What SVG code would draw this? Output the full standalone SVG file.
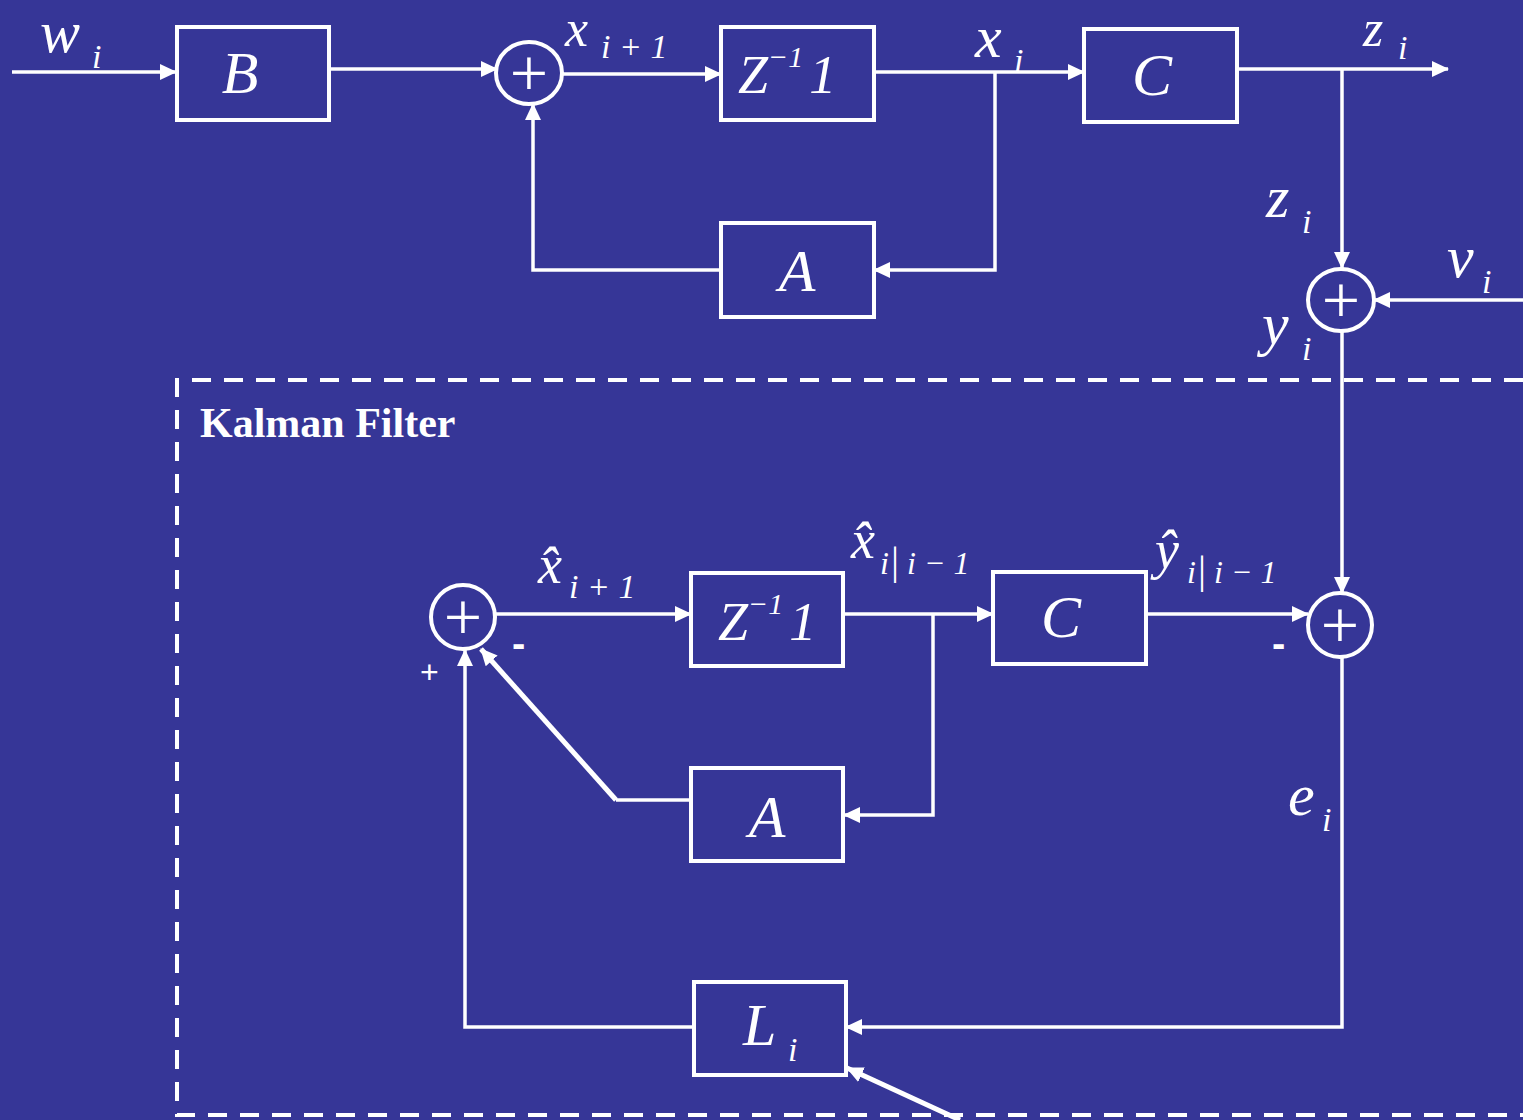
<svg xmlns="http://www.w3.org/2000/svg" width="1523" height="1120" viewBox="0 0 1523 1120">
<defs>
<marker id="ah" markerUnits="userSpaceOnUse" markerWidth="18" markerHeight="18" refX="16" refY="8" orient="auto">
<path d="M0,0 L17,8 L0,16 z" fill="#fff"/>
</marker>
<style>
.box{fill:none;stroke:#fff;stroke-width:4}
.sum{fill:none;stroke:#fff;stroke-width:4}
.ln{fill:none;stroke:#fff;stroke-width:3.5}
.thk{fill:none;stroke:#fff;stroke-width:5}
.dash{fill:none;stroke:#fff;stroke-width:4;stroke-dasharray:19 13}
.t{font-family:"Liberation Serif","Times New Roman",serif;font-style:italic;fill:#fff}
.big{font-size:60px}
.mid{font-size:54px}
.sub{font-size:34px}
.plus{font-family:"Liberation Serif","Times New Roman",serif;font-size:68px;fill:#fff;text-anchor:middle}
.sign{font-family:"Liberation Sans",Arial,sans-serif;font-weight:bold;font-size:40px;fill:#fff}
.psign{font-family:"Liberation Sans",Arial,sans-serif;font-size:32px;fill:#fff}
.kf{font-family:"Liberation Serif","Times New Roman",serif;font-weight:bold;font-size:42px;fill:#fff}
</style>
</defs>
<rect width="1523" height="1120" fill="#363697"/>

<g id="connectors">
<path class="ln" d="M12,72 H176" marker-end="url(#ah)"/>
<path class="ln" d="M329,69 H497" marker-end="url(#ah)"/>
<path class="ln" d="M562,74 H721" marker-end="url(#ah)"/>
<path class="ln" d="M874,72 H1084" marker-end="url(#ah)"/>
<path class="ln" d="M1237,69 H1448" marker-end="url(#ah)"/>
<path class="ln" d="M1342,69 V268" marker-end="url(#ah)"/>
<path class="ln" d="M995,72 V270 H874" marker-end="url(#ah)"/>
<path class="ln" d="M721,270 H533 V104" marker-end="url(#ah)"/>
<path class="ln" d="M1523,300 H1374" marker-end="url(#ah)"/>
<path class="ln" d="M1342,332 V593" marker-end="url(#ah)"/>
<path class="ln" d="M496,614 H691" marker-end="url(#ah)"/>
<path class="ln" d="M843,614 H993" marker-end="url(#ah)"/>
<path class="ln" d="M1146,614 H1308" marker-end="url(#ah)"/>
<path class="ln" d="M933,614 V815 H844" marker-end="url(#ah)"/>
<path class="ln" d="M691,800 H616"/>
<path class="thk" d="M616,800 L481,649" marker-end="url(#ah)"/>
<path class="ln" d="M1342,657 V1027 H846" marker-end="url(#ah)"/>
<path class="ln" d="M694,1027 H465 V650" marker-end="url(#ah)"/>
<path class="thk" d="M960,1120 L847,1068" marker-end="url(#ah)"/>
</g>

<g id="kalman-frame">
<path class="dash" d="M1523,380 H177 V1115 H1523"/>
<text class="kf" x="200" y="437">Kalman Filter</text>
</g>

<g id="B"><rect class="box" x="177" y="27" width="152" height="93"/><text class="t big" x="240" y="93" text-anchor="middle">B</text></g>
<g id="sum1"><ellipse class="sum" cx="529" cy="73" rx="33" ry="31"/><text class="plus" x="529" y="96">+</text></g>
<g id="Z1"><rect class="box" x="721" y="27" width="153" height="93"/><text class="t mid" x="738" y="93">Z<tspan font-size="30" dy="-26">−1</tspan><tspan dy="26" dx="6">1</tspan></text></g>
<g id="C1"><rect class="box" x="1084" y="29" width="153" height="93"/><text class="t big" x="1152" y="95" text-anchor="middle">C</text></g>
<g id="A1"><rect class="box" x="721" y="223" width="153" height="94"/><text class="t big" x="797" y="291" text-anchor="middle">A</text></g>
<g id="sum2"><ellipse class="sum" cx="1341" cy="300" rx="33" ry="31"/><text class="plus" x="1341" y="323">+</text></g>

<g id="sum4"><ellipse class="sum" cx="463" cy="617" rx="32" ry="32"/><text class="plus" x="463" y="640">+</text></g>
<g id="Z2"><rect class="box" x="691" y="573" width="152" height="93"/><text class="t mid" x="718" y="640">Z<tspan font-size="30" dy="-26">−1</tspan><tspan dy="26" dx="6">1</tspan></text></g>
<g id="C2"><rect class="box" x="993" y="572" width="153" height="92"/><text class="t big" x="1061" y="637" text-anchor="middle">C</text></g>
<g id="A2"><rect class="box" x="691" y="768" width="152" height="93"/><text class="t big" x="767" y="837" text-anchor="middle">A</text></g>
<g id="sum3"><ellipse class="sum" cx="1340" cy="625" rx="32" ry="32"/><text class="plus" x="1340" y="648">+</text></g>
<g id="L"><rect class="box" x="694" y="982" width="152" height="93"/><text class="t big" x="743" y="1045">L</text><text class="t sub" x="788" y="1061">i</text></g>

<g id="labels">
<text class="t big" x="40" y="52">w</text><text class="t sub" x="92" y="68">i</text>
<text class="t" font-size="52" x="565" y="46">x</text><text class="t sub" x="601" y="58">i + 1</text>
<text class="t big" x="975" y="57">x</text><text class="t sub" x="1014" y="72">i</text>
<text class="t" font-size="52" x="1363" y="46">z</text><text class="t sub" x="1398" y="59">i</text>
<text class="t big" x="1266" y="217">z</text><text class="t sub" x="1302" y="233">i</text>
<text class="t big" x="1447" y="277">v</text><text class="t sub" x="1482" y="293">i</text>
<text class="t big" x="1262" y="344">y</text><text class="t sub" x="1302" y="360">i</text>
<text class="t big" x="1288" y="815">e</text><text class="t sub" x="1322" y="831">i</text>

<text class="t" font-size="54" x="538" y="583">x̂</text><text class="t sub" x="569" y="598">i + 1</text>
<text class="t" font-size="54" x="851" y="558">x̂</text><text class="t" font-size="32" x="880" y="574">i<tspan font-style="normal" font-size="40" dx="2">|</tspan> i − 1</text>
<text class="t" font-size="54" x="1155" y="568">ŷ</text><text class="t" font-size="32" x="1187" y="583">i<tspan font-style="normal" font-size="40" dx="2">|</tspan> i − 1</text>

<text class="sign" x="512" y="657">-</text>
<text class="sign" x="1272" y="657">-</text>
<text class="psign" x="420" y="683">+</text>
</g>
</svg>
